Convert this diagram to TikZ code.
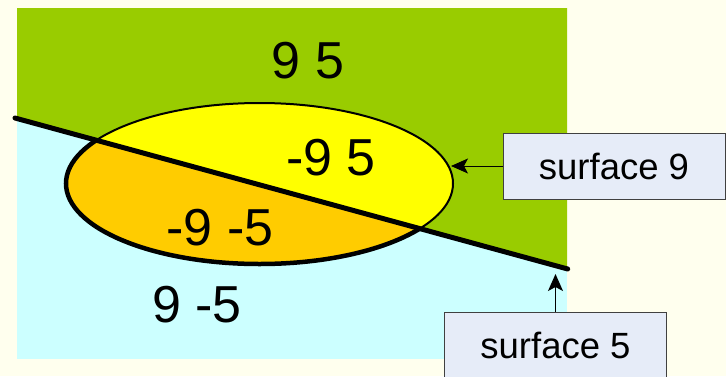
\documentclass[tikz,border=0pt]{standalone}
\usepackage{fontspec}
\setmainfont{Liberation Sans}
\usetikzlibrary{shapes.geometric,arrows.meta}
\definecolor{bgc}{HTML}{FFFFEE}
\definecolor{greenf}{HTML}{99CC00}
\definecolor{cyanf}{HTML}{CCFFFF}
\definecolor{yellowf}{HTML}{FFFF00}
\definecolor{orangef}{HTML}{FFCC00}
\definecolor{boxf}{HTML}{E6ECF8}
\definecolor{boxd}{HTML}{404040}
\tikzset{
  big/.style={inner sep=0pt, font=\fontsize{52}{60}\selectfont},
  lab/.style={draw=boxd, fill=boxf, line width=1pt, inner sep=0pt,
    minimum width=222pt, minimum height=66pt, font=\fontsize{36.5}{42}\selectfont},
  pointer/.style={line width=1pt, -{Stealth[length=17pt,width=15pt,inset=4pt]}},
}
\begin{document}
\begin{tikzpicture}[x=1pt,y=-1pt]
\useasboundingbox (0,0) rectangle (726,376);
\fill[bgc] (0,0) rectangle (726,376);
\fill[cyanf] (17,8) rectangle (567,359);
\fill[greenf] (17,8) -- (567,8) -- (567,269) -- (17,118.5) -- cycle;
\coordinate (la) at (15,118);
\coordinate (lb) at (567.7,269);
\node[ellipse, draw, line width=2pt, fill=yellowf, inner sep=0pt,
  minimum width=387pt, minimum height=161pt] (e) at (259.5,183.5) {};
\begin{scope}
  \clip (la) -- (lb) -- (567.7,400) -- (15,400) -- cycle;
  \fill[orangef] (e.center) ellipse [x radius=193.5pt, y radius=80.5pt];
  \draw[line width=4.5pt] (e.center) ellipse [x radius=193.5pt, y radius=80.5pt];
\end{scope}
\draw[line width=5pt, line cap=round] (la) -- (lb);
\node[big] (t1) at (308,61) {9 5};
\node[big] (t2) at (331,158) {-9 5};
\node[big] (t3) at (220,228) {-9 -5};
\node[big] (t4) at (197,305) {9 -5};
\node[lab] (s9) at (614,166) {surface 9};
\node[lab] (s5) at (555.5,345) {surface 5};
\coordinate (p9) at (451,166);
\coordinate (p5) at (555.5,274);
\draw[pointer] (s9.west) -- (p9);
\draw[pointer] (s5.north) -- (p5);
\end{tikzpicture}
\end{document}
